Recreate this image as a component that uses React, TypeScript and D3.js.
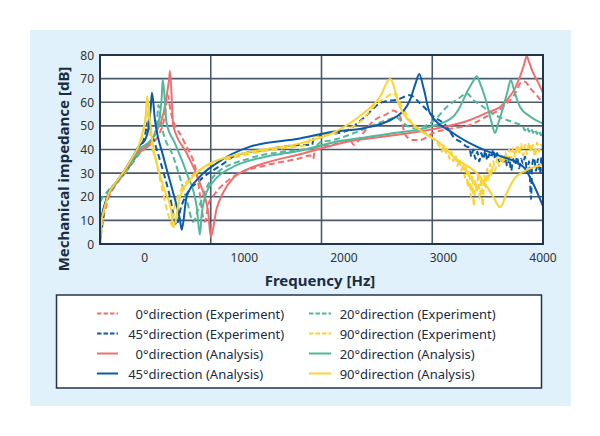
import React from "react";
import * as d3 from "d3";

// ---- data (frequency in Hz, impedance in dB) ----
const xTickValues = [0, 1000, 2000, 3000, 4000];
const yTickValues = [0, 10, 20, 30, 40, 50, 60, 70, 80];

const exp0: [number, number][] = [
  [-445, 3], [-440, 6], [-400, 14], [-360, 20], [-300, 24.5], [-199, 30], [-119, 35], [-58, 38.5],
  [52, 42], [150, 47], [200, 54], [230, 63], [260, 56], [387, 44], [521, 30], [605, 9.4],
  [640, 17], [700, 21], [889, 28.5], [1224, 33.4], [1559, 36.3], [1660, 37.5], [1690, 36],
  [1710, 40], [1727, 41], [1890, 42], [2000, 43.5], [2061, 44], [2100, 42], [2195, 47],
  [2296, 52], [2430, 55], [2493, 56.5], [2564, 54], [2620, 46], [2694, 44], [2764, 44],
  [2898, 47], [3099, 49], [3267, 50.4], [3434, 54], [3601, 58.1], [3736, 65], [3769, 68],
  [3819, 68.7], [3870, 66], [3936, 63], [4000, 59.6],
];
const exp20: [number, number][] = [
  [-445, 18], [-420, 20], [-400, 21], [-360, 23], [-300, 25.5], [-199, 30], [-119, 34.5], [-58, 38],
  [52, 43], [120, 50], [136, 58.8], [170, 50], [286, 37], [421, 18.6], [487, 9.4], [530, 14],
  [600, 22], [722, 30], [1057, 36.3], [1559, 39.8], [1700, 40.5], [1760, 43], [1890, 44],
  [2195, 48.5], [2400, 52], [2530, 53.5], [2600, 51], [2700, 49], [2900, 52], [3033, 58],
  [3166, 62], [3233, 63.8], [3300, 61], [3400, 58], [3500, 55], [3601, 53], [3702, 51.5],
  [3800, 49.5], [3820, 48], [3840, 49.5], [3860, 47.5], [3880, 49], [3900, 47], [3920, 48.5],
  [3940, 46.5], [3960, 48], [3980, 46], [4000, 47],
];
const exp45: [number, number][] = [
  [-445, 3], [-420, 10], [-400, 16], [-360, 21], [-300, 25], [-199, 30.5], [-119, 35.5], [-58, 40],
  [2, 46], [32, 51.8], [60, 48], [120, 40], [253, 20], [320, 8], [360, 15], [420, 21],
  [554, 27], [789, 34], [889, 37], [1224, 40], [1559, 41.9], [1680, 42], [1700, 45.5],
  [1760, 46], [2000, 47.5], [2195, 53.2], [2363, 59.6], [2430, 60.5], [2530, 61], [2664, 63],
  [2764, 59.6], [2900, 54], [3033, 49.7], [3099, 45.4], [3196, 42.6], [3233, 41.2],
  [3260, 41], [3280, 37], [3300, 40], [3320, 36], [3340, 39], [3360, 35], [3380, 38.5],
  [3400, 36], [3420, 39.5], [3440, 35.5], [3460, 38], [3480, 36.5], [3500, 40], [3520, 36],
  [3540, 38.5], [3560, 35], [3580, 37.5], [3600, 34], [3620, 37], [3640, 33], [3660, 36.5],
  [3680, 31], [3700, 36], [3720, 33.5], [3740, 37], [3760, 32], [3780, 36], [3800, 34],
  [3820, 37], [3840, 30], [3860, 35], [3880, 19], [3890, 33], [3910, 36.5], [3930, 31],
  [3950, 36], [3970, 30], [3985, 37], [4000, 28],
];
const exp90: [number, number][] = [
  [-445, 0], [-430, 8], [-400, 16], [-360, 21.6], [-300, 25], [-199, 30.5], [-119, 36], [-58, 41],
  [-18, 47], [12, 55], [22, 60], [40, 50], [120, 34], [253, 10], [270, 8], [300, 16],
  [354, 22], [454, 28], [622, 33], [889, 36.5], [1224, 39.5], [1559, 41.5], [1640, 42],
  [1660, 45], [1760, 46], [2000, 48], [2195, 53], [2296, 58.1], [2430, 62.3], [2493, 63.8],
  [2563, 59.6], [2700, 50], [2850, 46], [2965, 41], [2985, 39], [3000, 42], [3020, 38],
  [3040, 40], [3060, 36], [3080, 39], [3100, 35], [3120, 37.5], [3140, 33], [3160, 36],
  [3180, 31], [3200, 34], [3215, 28], [3230, 33], [3245, 24], [3260, 31], [3275, 20],
  [3290, 29], [3305, 16], [3320, 27], [3335, 22], [3350, 30], [3365, 19], [3380, 28],
  [3395, 16], [3410, 29], [3425, 24], [3440, 32], [3455, 27], [3470, 34], [3485, 29],
  [3500, 35], [3520, 31], [3540, 36.5], [3560, 33], [3580, 38], [3600, 34], [3620, 39],
  [3640, 35], [3660, 40], [3680, 36], [3700, 41], [3720, 37], [3740, 42], [3760, 38],
  [3780, 42.5], [3800, 37.5], [3820, 42], [3840, 38], [3860, 43], [3880, 39], [3900, 42],
  [3920, 37], [3940, 43], [3960, 39], [3980, 42], [4000, 40],
];

const ana0: [number, number][] = [
  [-445, 2], [-440, 8], [-400, 16], [-360, 21], [-300, 25], [-259, 27.5], [-199, 31], [-159, 33.5],
  [-119, 36], [-58, 39], [52, 43], [120, 48], [186, 55], [220, 63], [245, 70], [253, 73.2],
  [286, 50], [421, 38.4], [554, 25.7], [638, 13], [662, 3], [722, 15], [790, 22], [889, 28],
  [1000, 31], [1224, 34.5], [1559, 38], [2000, 43], [2500, 46], [3000, 49.5], [3267, 52.5],
  [3434, 55.5], [3568, 58], [3650, 61.5], [3720, 66], [3770, 71], [3810, 76], [3836, 79.5],
  [3860, 77], [3900, 72.5], [3950, 68.5], [4000, 64],
];
const ana20: [number, number][] = [
  [-445, 2], [-440, 9], [-400, 17], [-360, 21.5], [-300, 25], [-199, 31], [-119, 36], [-58, 40],
  [52, 43.5], [120, 48], [150, 54], [170, 62], [180, 69.7], [220, 51], [303, 42.6], [421, 30],
  [521, 15.8], [554, 4], [570, 12], [622, 22], [700, 27], [889, 32.7], [1224, 37], [1559, 39.5],
  [1890, 43], [2195, 45], [2430, 46.5], [2898, 50], [3099, 54], [3166, 58], [3233, 64],
  [3300, 69], [3334, 71], [3368, 68], [3434, 59.6], [3480, 52], [3518, 47], [3550, 51],
  [3601, 58], [3640, 64], [3676, 69.4], [3710, 65], [3769, 58], [3870, 54], [4000, 51],
];
const ana45: [number, number][] = [
  [-445, 2], [-440, 9], [-400, 17], [-360, 22], [-300, 25.5], [-199, 31.5], [-119, 37], [-58, 41.5],
  [2, 44], [40, 50], [60, 58], [72, 64], [102, 52.5], [186, 37], [286, 21.5], [354, 10.2],
  [371, 6], [420, 20], [554, 28.5], [722, 34.2], [1057, 41.2], [1559, 44.7], [1890, 47.5],
  [2195, 49], [2530, 54], [2664, 61], [2720, 68], [2757, 72], [2800, 66], [2865, 55.3],
  [3099, 46.9], [3334, 41.2], [3535, 37.7], [3802, 32.7], [3899, 25.7], [4000, 16],
];
const ana90: [number, number][] = [
  [-445, 0], [-440, 8], [-400, 16], [-360, 21.6], [-300, 25.5], [-199, 31.5], [-119, 37], [-58, 42],
  [-18, 48], [12, 55], [22, 62.4], [69, 45.4], [186, 24.3], [270, 13], [286, 7], [354, 20],
  [454, 27], [622, 33.4], [789, 36.3], [1057, 39], [1559, 42.6], [1890, 47], [2195, 55.3],
  [2363, 62.3], [2463, 69.8], [2563, 58], [2764, 48.3], [2965, 42.6], [3099, 37], [3367, 28.5],
  [3500, 20], [3568, 15.6], [3640, 22], [3702, 27], [3836, 31.3], [4000, 33.4],
];

const RED = "#f26e6e";
const TEAL = "#50b99b";
const BLUE = "#0b5aab";
const YELLOW = "#fbd332";

type Series = { angle: string; kind: string; color: string; dashed: boolean; data: [number, number][] };

const seriesList: Series[] = [
  { angle: "0", kind: "(Experiment)", color: RED, dashed: true, data: exp0 },
  { angle: "20", kind: "(Experiment)", color: TEAL, dashed: true, data: exp20 },
  { angle: "45", kind: "(Experiment)", color: BLUE, dashed: true, data: exp45 },
  { angle: "90", kind: "(Experiment)", color: YELLOW, dashed: true, data: exp90 },
  { angle: "0", kind: "(Analysis)", color: RED, dashed: false, data: ana0 },
  { angle: "20", kind: "(Analysis)", color: TEAL, dashed: false, data: ana20 },
  { angle: "45", kind: "(Analysis)", color: BLUE, dashed: false, data: ana45 },
  { angle: "90", kind: "(Analysis)", color: YELLOW, dashed: false, data: ana90 },
];

// legend order: rows left/right
const legendOrder = [0, 1, 2, 3, 4, 5, 6, 7];

export default function App() {
  const W = 600, H = 436;
  const plot = { left: 100, right: 543, top: 55, bottom: 244 };
  const x = d3.scaleLinear().domain([-450, 4000]).range([plot.left, plot.right]);
  const y = d3.scaleLinear().domain([0, 80]).range([plot.bottom, plot.top]);
  const [d0, d1] = x.domain();
  const xGrid = d3.range(1, 4).map((i) => d0 + (i * (d1 - d0)) / 4);

  const line = d3
    .line<[number, number]>()
    .x((d) => x(d[0]))
    .y((d) => y(d[1]))
    .curve(d3.curveMonotoneX);

  const font = "'Noto Sans', 'Open Sans', sans-serif";
  const textColor = "#1b2b44";
  const gridColor = "#4b5a6a";

  const legend = { x: 56.5, y: 295, w: 485, h: 93 };
  const rowY = (r: number) => 313.5 + r * 20;
  const colX = [{ l0: 97, l1: 118, t: 128 }, { l0: 309, l1: 331, t: 339.5 }];

  return (
    <svg width={W} height={H} style={{ position: "absolute", left: 0, top: 0, background: "#fff" }} fontFamily={font}>
      <defs>
        <clipPath id="plotClip">
          <rect x={plot.left} y={plot.top} width={plot.right - plot.left} height={plot.bottom - plot.top} />
        </clipPath>
      </defs>
      <rect x={30} y={30} width={541} height={376} fill="#e0f1fb" />
      <rect x={plot.left} y={plot.top} width={plot.right - plot.left} height={plot.bottom - plot.top} fill="#fff" />
      {yTickValues.map((v) => (
        <line key={"hy" + v} x1={plot.left} x2={plot.right} y1={y(v)} y2={y(v)} stroke={gridColor} strokeWidth={1.6} />
      ))}
      {xGrid.map((v) => (
        <line key={"gx" + v} x1={x(v)} x2={x(v)} y1={plot.top} y2={plot.bottom} stroke={gridColor} strokeWidth={1.6} />
      ))}
      <g clipPath="url(#plotClip)">
        {seriesList.map((s, i) => (
          <path
            key={i}
            d={line(s.data) || ""}
            fill="none"
            stroke={s.color}
            strokeWidth={2}
            strokeDasharray={s.dashed ? "6,3.5" : undefined}
            strokeLinejoin="round"
          />
        ))}
      </g>
      <rect x={plot.left} y={plot.top} width={plot.right - plot.left} height={plot.bottom - plot.top} fill="none" stroke="#22344a" strokeWidth={2} />
      {yTickValues.map((v) => (
        <text key={"ty" + v} x={94} y={y(v)} textAnchor="end" dominantBaseline="central" fontSize={12} fill="#333">
          {v}
        </text>
      ))}
      {xTickValues.map((v) => (
        <text key={"tx" + v} x={x(v)} y={257} textAnchor="middle" dominantBaseline="central" fontSize={12} fill="#333">
          {v}
        </text>
      ))}
      <text x={320} y={280} textAnchor="middle" dominantBaseline="central" fontSize={15} fontWeight="bold" fill={textColor}>
        Frequency [Hz]
      </text>
      <text
        transform="translate(63,169) rotate(-90)"
        textAnchor="middle"
        dominantBaseline="central"
        fontSize={15}
        fontWeight="bold"
        fill={textColor}
      >
        Mechanical impedance [dB]
      </text>
      <rect x={legend.x} y={legend.y} width={legend.w} height={legend.h} fill="#fff" stroke="#22344a" strokeWidth={1.5} />
      {legendOrder.map((idx, k) => {
        const s = seriesList[idx];
        const row = Math.floor(k / 2);
        const c = colX[k % 2];
        const cy = rowY(row);
        const numEnd = c.t + 15;
        return (
          <g key={"lg" + k}>
            <line x1={c.l0} x2={c.l1} y1={cy} y2={cy} stroke={s.color} strokeWidth={2} strokeDasharray={s.dashed ? "4.5,2" : undefined} />
            <text x={numEnd} y={cy} textAnchor="end" dominantBaseline="central" fontSize={13} fill={textColor}>
              {s.angle}
            </text>
            <text x={numEnd} y={cy} textAnchor="start" dominantBaseline="central" fontSize={13} fill={textColor}>
              {"°direction " + s.kind}
            </text>
          </g>
        );
      })}
    </svg>
  );
}
